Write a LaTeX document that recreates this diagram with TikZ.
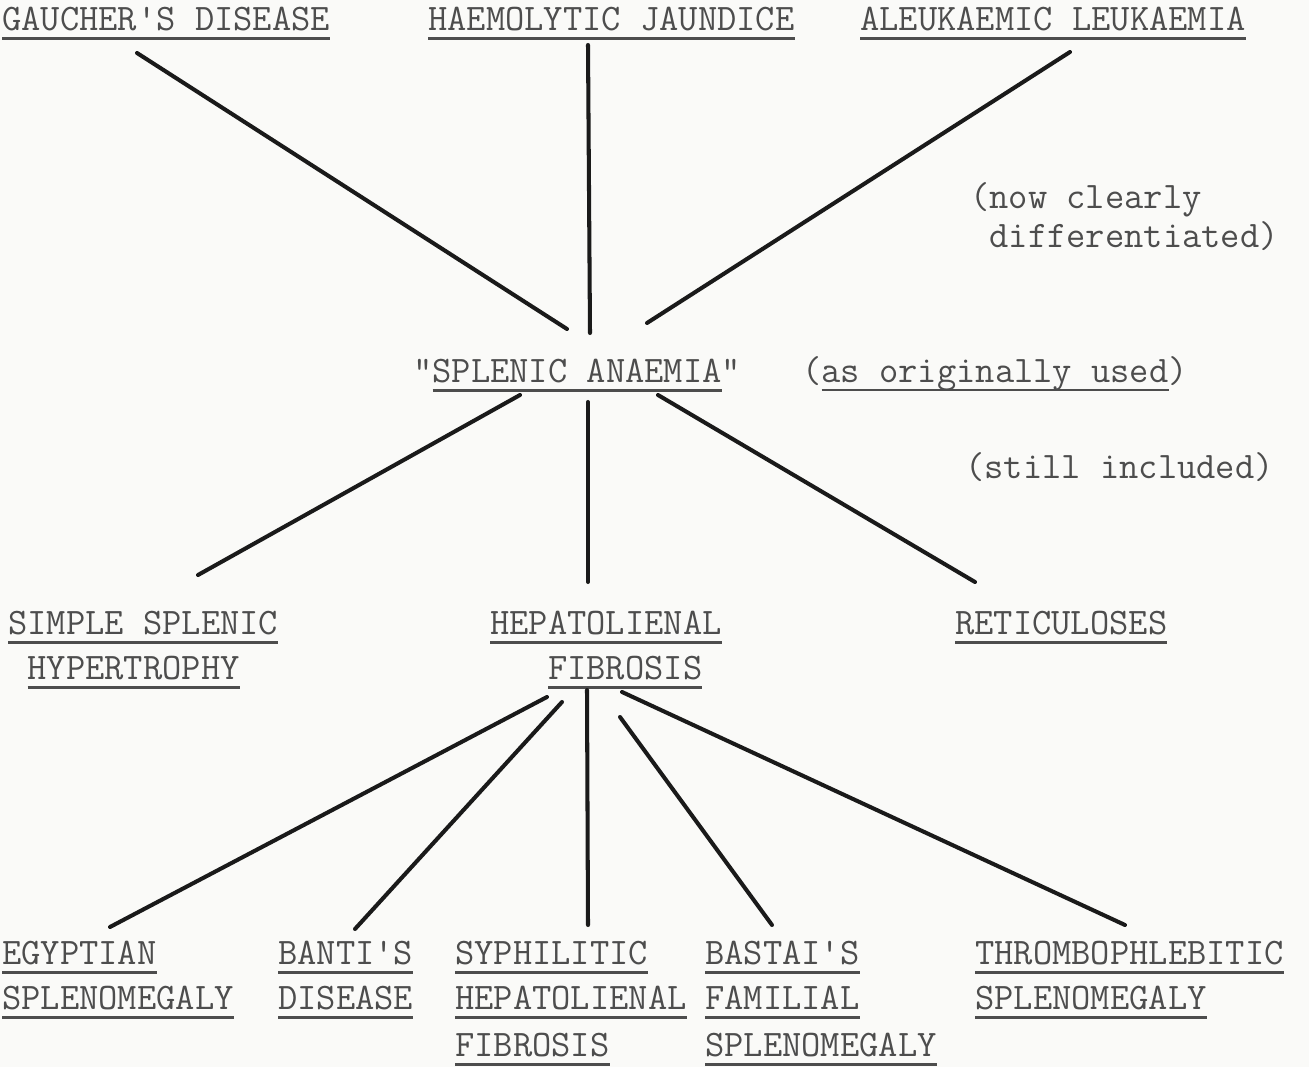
\documentclass[tikz,border=0pt]{standalone}
\usepackage{xcolor}
\usepackage{tikz}
\usetikzlibrary{calc}
\definecolor{tyInk}{HTML}{4D4D4D}
\definecolor{tyLine}{HTML}{1A1A1A}
\definecolor{tyPaper}{HTML}{FAFAF8}
% typed underline, a fixed distance below the baseline
\newcommand{\tyul}[1]{\setbox0\hbox{#1}\rlap{\rule[-5.2pt]{\wd0}{1.4pt}}\box0}

\begin{document}
\begin{tikzpicture}[
  x=0.02cm, y=-0.02cm,
  entry/.style={anchor=north west, inner sep=0pt, align=left, text=tyInk,
                font=\fontsize{21.3pt}{25.6pt}\selectfont\ttfamily},
  aside/.style={entry, font=\fontsize{21.3pt}{22.2pt}\selectfont\ttfamily},
  link/.style={draw=tyLine, line width=2.3pt, line cap=round}
]
  \fill[tyPaper] (0,0) rectangle (1309,1067);
  \useasboundingbox (0,0) rectangle (1309,1067);

  % Top row
  \node[entry] (gaucher) at (2,7) {\tyul{GAUCHER'S DISEASE}};
  \node[entry] (haemolytic) at (428,7) {\tyul{HAEMOLYTIC JAUNDICE}};
  \node[entry] (aleukaemic) at (860,7) {\tyul{ALEUKAEMIC LEUKAEMIA}};
  \node[aside] (nowclear) at (970,182) {(now clearly\\\phantom{(}differentiated)};

  % Centre
  \node[entry] (splenic) at (413,359) {"\tyul{SPLENIC ANAEMIA}"};
  \node[aside] (origused) at (802,356) {(\tyul{as originally used})};
  \node[aside] (stillinc) at (965,452) {(still included)};

  % Middle row
  \node[entry] (simple) at (8,611) {\tyul{SIMPLE SPLENIC}\\\phantom{S}\tyul{HYPERTROPHY}};
  \node[entry] (hepato) at (490,611) {\tyul{HEPATOLIENAL}\\\phantom{HEP}\tyul{FIBROSIS}};
  \node[entry] (reticul) at (955,611) {\tyul{RETICULOSES}};

  % Bottom row
  \node[entry] (egyptian) at (2,941) {\tyul{EGYPTIAN}\\\tyul{SPLENOMEGALY}};
  \node[entry] (banti) at (278,941) {\tyul{BANTI'S}\\\tyul{DISEASE}};
  \node[entry] (syphilitic) at (455,941) {\tyul{SYPHILITIC}\\\tyul{HEPATOLIENAL}\\[1pt]\tyul{FIBROSIS}};
  \node[entry] (bastai) at (705,941) {\tyul{BASTAI'S}\\\tyul{FAMILIAL}\\[1pt]\tyul{SPLENOMEGALY}};
  \node[entry] (thrombo) at (975,941) {\tyul{THROMBOPHLEBITIC}\\\tyul{SPLENOMEGALY}};

  \draw[link] ($(gaucher.north west)+(135,46)$) -- ($(splenic.north west)+(154,-30)$);
  \draw[link] ($(haemolytic.north west)+(160,38)$) -- ($(splenic.north west)+(177,-26)$);
  \draw[link] ($(aleukaemic.north west)+(210,45)$) -- ($(splenic.north west)+(234,-36)$);
  \draw[link] ($(splenic.north west)+(107,36)$) -- ($(simple.north west)+(190,-36)$);
  \draw[link] ($(splenic.north west)+(175,43)$) -- ($(hepato.north west)+(98,-29)$);
  \draw[link] ($(splenic.north west)+(245,36)$) -- ($(reticul.north west)+(20,-29)$);
  \draw[link] ($(hepato.north west)+(57,86)$) -- ($(egyptian.north west)+(108,-14)$);
  \draw[link] ($(hepato.north west)+(72,91)$) -- ($(banti.north west)+(77,-12)$);
  \draw[link] ($(hepato.north west)+(97,79)$) -- ($(syphilitic.north west)+(133,-16)$);
  \draw[link] ($(hepato.north west)+(130,106)$) -- ($(bastai.north west)+(67,-16)$);
  \draw[link] ($(hepato.north west)+(132,81)$) -- ($(thrombo.north west)+(150,-16)$);
\end{tikzpicture}
\end{document}
